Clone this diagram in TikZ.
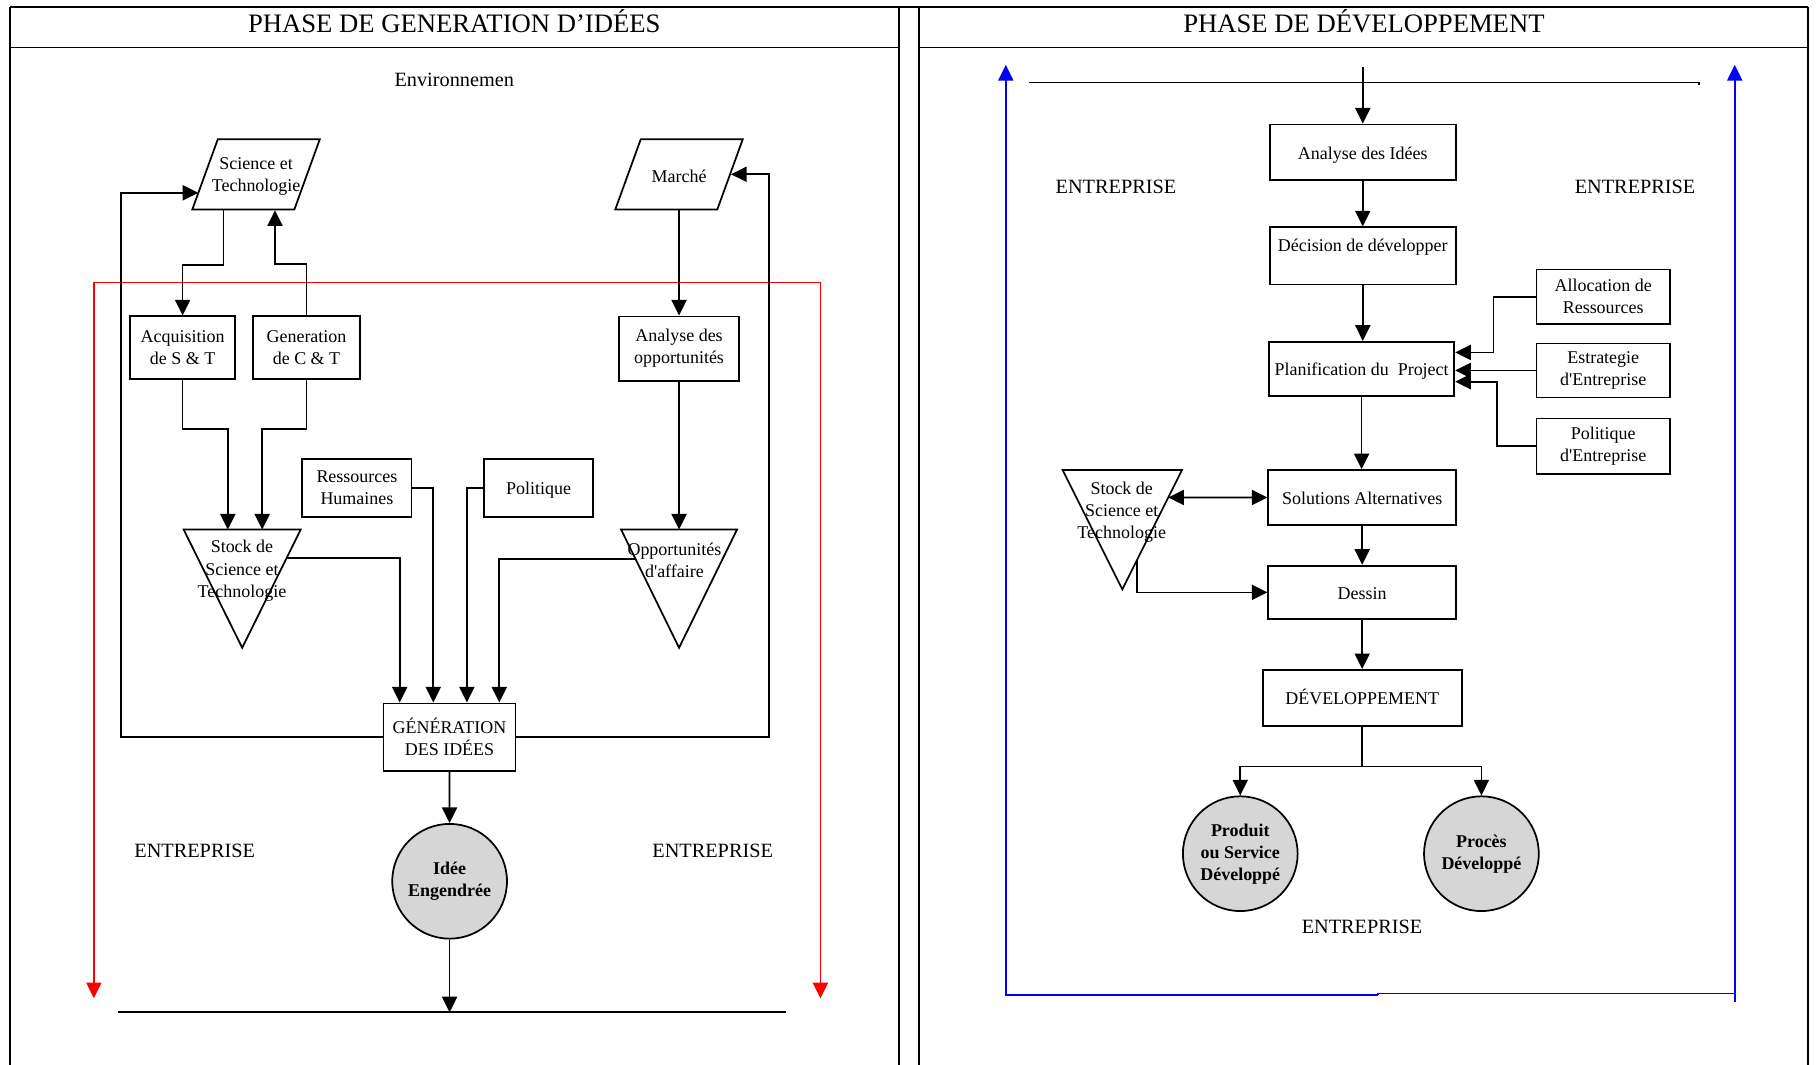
\documentclass[tikz,border=0pt]{standalone}
\usepackage{fontspec}
\setmainfont{Liberation Serif}
\usetikzlibrary{arrows.meta,shapes.geometric,calc}

\begin{document}
\begin{tikzpicture}[x=1pt,y=-1pt,>={Triangle[length=13.5pt,width=13pt]}]
    \tikzstyle{every node}=[font=\fontsize{15.5}{19}\selectfont]
    \tikzstyle{box}=[draw,line width=1.5pt,inner sep=2pt,align=center]
    \tikzstyle{oneline}=[box,text height=12pt,text depth=0pt]
    \tikzstyle{para}=[box,trapezium,trapezium left angle=71.6,trapezium right angle=108.4,trapezium stretches=true,minimum width=110pt,minimum height=60.6pt]
    \tikzstyle{result}=[box,circle,fill=black!16,minimum size=99pt,font=\fontsize{15.5}{19}\selectfont\bfseries]
    \tikzstyle{link}=[line width=1.5pt]
    \tikzstyle{cellline}=[line width=1.7pt]
    \tikzstyle{lab}=[font=\fontsize{17.5}{21}\selectfont]
    \tikzstyle{head}=[font=\fontsize{23}{27}\selectfont]
    \useasboundingbox (0,0) rectangle (1568,919);

    \draw[cellline] (9,6) -- (1560,6);
    \draw[cellline] (9,6) -- (9,919) (776,6) -- (776,919) (9,41) -- (776,41);
    \draw[cellline] (793,6) -- (793,919) (1560,6) -- (1560,919) (793,41) -- (1560,41);
    \node[head] (headA) at (392,18) {PHASE DE GENERATION D’IDÉES};
    \node[head] (headB) at (1177,18) {PHASE DE DÉVELOPPEMENT};

    \node[lab] (env) at (392,69) {Environnemen};
    \node[para,label={[align=center,yshift=-1.5pt]center:Science et\\Technologie}] (sci) at (221,150.4) {};
    \node[para,label={[yshift=-1.5pt]center:Marché}] (mar) at (586,150.4) {};
    \node[box,minimum width=91pt,minimum height=54pt] (acq) at (157.6,300) {Acquisition\\de S \& T};
    \node[box,minimum width=92pt,minimum height=54pt] (gen) at (264.5,300) {Generation\\de C \& T};
    \node[box,minimum width=104pt,minimum height=55.5pt] (anopp) at (586,300.8) {Analyse des\\opportunités};
    \node[box,minimum width=94.4pt,minimum height=50pt] (rh) at (308,421) {Ressources\\Humaines};
    \node[oneline,minimum width=94.4pt,minimum height=50pt] (pol) at (464.8,421) {Politique};
    \coordinate (stAl) at (158.5,457);
    \coordinate (stAr) at (259.5,457);
    \coordinate (stAb) at (209,559);
    \draw[link] (stAl) -- (stAr) -- (stAb) -- cycle;
    \node[align=center] (stockA) at (208.8,492.5) {Stock de\\Science et\\Technologie};
    \coordinate (opAl) at (536,457);
    \coordinate (opAr) at (636,457);
    \coordinate (opAb) at (586,559);
    \draw[link] (opAl) -- (opAr) -- (opAb) -- cycle;
    \node[align=center] (oppA) at (582,483.5) {Opportunités\\d\textquotesingle affaire};
    \node[box,minimum width=114pt,minimum height=58.4pt] (genid) at (387.9,636.2) {GÉNÉRATION\\DES IDÉES};
    \node[result] (idee) at (388,760.5) {Idée\\Engendrée};
    \node[lab] (entA) at (168,734.5) {ENTREPRISE};
    \node[lab] (entB) at (615,734.5) {ENTREPRISE};
    \coordinate (botL) at (101.7,873.6);
    \coordinate (botR) at (678.6,873.6);
    \coordinate (redL) at (81,861.5);
    \coordinate (redR) at (708,861.5);

    \draw[link] (botL) -- (botR);
    \draw[link,red,<->] (redL) -- (81,243.7) -- (708,243.7) -- (redR);
    \draw[link,->] ([xshift=-28.2pt]sci.south) -- ++(0,47.2) -| (acq.north);
    \draw[link,->] (gen.north) -- ++(0,-44.6) -| ([xshift=16.3pt]sci.south);
    \draw[link,->] (acq.south) -- ++(0,42.3) -| ($(stAl)!.377!(stAr)$);
    \draw[link,->] (gen.south) -- ++(0,42.3) -| ($(stAl)!.671!(stAr)$);
    \draw[link,->] ($(stAr)!.24!(stAb)$) -| ([xshift=-43pt]genid.north);
    \draw[link,->] (rh.east) -| ([xshift=-14pt]genid.north);
    \draw[link,->] (pol.west) -| ([xshift=15pt]genid.north);
    \draw[link,->] ($(opAl)!.25!(opAb)$) -| ([xshift=43pt]genid.north);
    \draw[link,->] (mar.south) -- (anopp.north);
    \draw[link,->] (anopp.south) -- ($(opAl)!.5!(opAr)$);
    \draw[link,->] (genid.west) -- ++(-226,0) |- ([shift={(-5,16)}]sci.west);
    \draw[link,->] (genid.east) -- ++(218.2,0) |- (mar.east);
    \draw[link,->] (genid.south) -- (idee.north);
    \draw[link,->] (idee.south) -- (idee.south |- botL);

    \coordinate (entry) at (1176,57.5);
    \coordinate (topL) at (888,71.1);
    \coordinate (topR) at (1466,71.1);
    \node[oneline,minimum width=160.5pt,minimum height=48pt] (anid) at (1176,131.4) {Analyse des Idées};
    \node[box,minimum width=160.5pt,minimum height=49.2pt,text depth=18pt] (dec) at (1176,220.8) {Décision de développer};
    \node[oneline,minimum width=160pt,minimum height=47pt] (plan) at (1175,318.4) {Planification du~ Project};
    \node[oneline,minimum width=162pt,minimum height=47.4pt] (sol) at (1175.5,429.3) {Solutions Alternatives};
    \node[oneline,minimum width=162pt,minimum height=46pt] (des) at (1175.5,511.2) {Dessin};
    \node[oneline,minimum width=171.7pt,minimum height=48pt] (dev) at (1175.5,602.2) {DÉVELOPPEMENT};
    \node[box,minimum width=115pt,minimum height=47.2pt] (alloc) at (1383.5,256.1) {Allocation de\\Ressources};
    \node[box,minimum width=115pt,minimum height=46.7pt] (estr) at (1383.5,319.7) {Estrategie\\d\textquotesingle Entreprise};
    \node[box,minimum width=115pt,minimum height=48pt] (polE) at (1383.5,385.1) {Politique\\d\textquotesingle Entreprise};
    \coordinate (stBl) at (917,405.6);
    \coordinate (stBr) at (1020,405.6);
    \coordinate (stBb) at (968.5,508.6);
    \draw[link] (stBl) -- (stBr) -- (stBb) -- cycle;
    \node[align=center] (stockB) at (968,442) {Stock de\\Science et\\Technologie};
    \node[result] (prod) at (1070.3,736.7) {Produit\\ou Service\\Développé};
    \node[result] (proc) at (1278.4,736.7) {Procès\\Développé};
    \node[lab] (entC) at (963,161) {ENTREPRISE};
    \node[lab] (entD) at (1411,161) {ENTREPRISE};
    \node[lab] (entE) at (1175.4,800) {ENTREPRISE};

    \draw[link] (topL) -- (topR) -- ++(0,2.5);
    \draw[link,blue,->] (1189,858.7) -- (868,858.7) -- (868,56);
    \draw[link,blue] (1189,858.7) -- (1189,857.3) -- (1497,857.3);
    \draw[link,blue,->] (1497,864.4) -- (1497,56);
    \draw[link,->] (entry) -- (anid.north);
    \draw[link,->] (anid) -- (dec);
    \draw[link,->] (dec.south) -- (dec.south |- plan.north);
    \draw[link,->] (plan.south) -- (plan.south |- sol.north);
    \draw[link,->] (sol) -- (des);
    \draw[link,->] (des) -- (dev);
    \draw[link,->] (alloc.west) -- ++(-36.4,0) |- ([yshift=14.3pt]plan.east);
    \draw[link,->] (estr.west) -- (estr.west -| plan.east);
    \draw[link,->] (polE.west) -- ++(-33.3,0) |- ([yshift=-11pt]plan.east);
    \draw[link,<->] (intersection of stBr--stBb and sol.west--sol.east) -- (sol.west);
    \draw[link,->] ($(stBr)!.756!(stBb)$) |- (des.west);
    \draw[link,->] (dev.south) -- ++(0,34.6) -| (prod.north);
    \draw[link,->] (dev.south) -- ++(0,34.6) -| (proc.north);
\end{tikzpicture}
\end{document}
